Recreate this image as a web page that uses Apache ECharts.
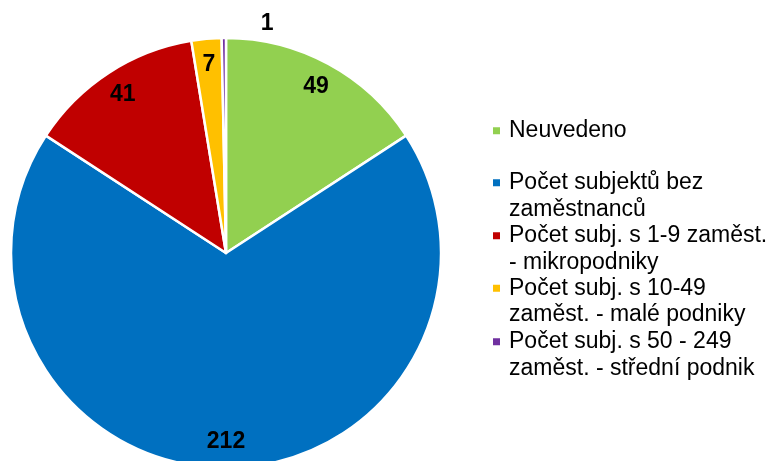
<!DOCTYPE html>
<html>
<head>
<meta charset="utf-8">
<script src="https://cdn.jsdelivr.net/npm/echarts@6/dist/echarts.min.js"></script>
<style>
    html, body { margin: 0; padding: 0; background: #fff; }
    #pie { width: 777px; height: 461px; }
</style>
</head>
<body>
<div id="pie"></div>
<script>
// chart data
const categories = [
    "Neuvedeno",
    "Počet subjektů bez\nzaměstnanců",
    "Počet subj. s 1-9 zaměst.\n- mikropodniky",
    "Počet subj. s 10-49\nzaměst. - malé podniky",
    "Počet subj. s 50 - 249\nzaměst. - střední podnik"
];
const values = [49, 212, 41, 7, 1];
const colors = ["#92D050", "#0070C0", "#C00000", "#FFC000", "#7030A0"];

// legend rows (top of each row)
const legendTops = [117.5, 169.5, 222.5, 275, 328.5];

const center = [226, 253];
const radius = 215;
const font = "Arial, 'Liberation Sans', sans-serif";
const lineH = 26.5;

const pieData = categories.map((name, i) => ({
    name: name,
    value: values[i],
    itemStyle: { color: colors[i] },
}));

// one legend per entry; for two-line entries the marker is a square
// at the top of a taller icon box so it lines up with the first line
const legends = categories.map((name, i) => {
    const twoLines = name.includes("\n");
    const boxH = 7 + lineH;
    return {
        left: 493,
        top: legendTops[i],
        padding: 0,
        icon: twoLines ? "path://M0,0L7,0L7,7L0,7Z M0," + boxH + "L7," + boxH : "rect",
        itemWidth: 7,
        itemHeight: twoLines ? boxH : 7,
        itemStyle: { borderWidth: 0 },
        selectedMode: false,
        data: [name],
        textStyle: {
            fontFamily: font,
            fontSize: 23,
            lineHeight: lineH,
            color: "#000",
            padding: [0, 0, 0, 4],
        },
    };
});

const myChart = echarts.init(document.getElementById("pie"), null, { renderer: "canvas" });

const option = {
    animation: false,
    legend: legends,
    series: [
        {
            name: "pie",
            type: "pie",
            center: center,
            radius: [0, radius],
            startAngle: 90,
            clockwise: true,
            data: pieData,
            label: { show: false },
            labelLine: { show: false },
            itemStyle: {
                borderColor: "#fff",
                borderWidth: 2.5,
            },
            emphasis: { disabled: true },
        },
        {
            // transparent ring only used to place the value labels
            name: "labels",
            type: "pie",
            silent: true,
            center: center,
            radius: [radius * 0.73, radius],
            startAngle: 90,
            clockwise: true,
            data: categories.map((name, i) => ({
                name: name,
                value: values[i],
                itemStyle: { color: "rgba(0,0,0,0)" },
            })),
            label: {
                show: true,
                position: "inside",
                formatter: "{c}",
                fontFamily: font,
                fontSize: 23,
                fontWeight: "bold",
                color: "#000",
            },
            labelLine: { show: false },
            labelLayout: function (params) {
                if (params.dataIndex === 4) {
                    return { dx: 43, dy: -40 };
                }
                return {};
            },
            emphasis: { disabled: true },
        },
    ],
};

myChart.setOption(option);
</script>
</body>
</html>
